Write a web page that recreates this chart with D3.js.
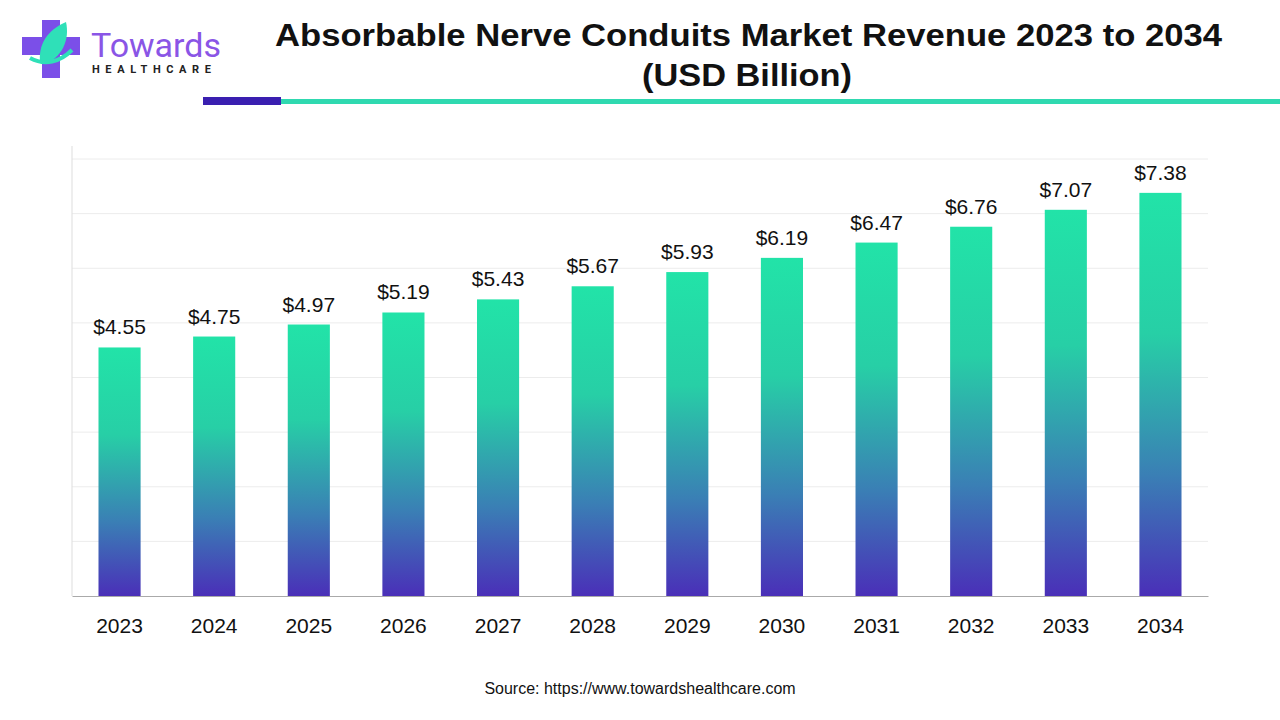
<!DOCTYPE html>
<html><head><meta charset="utf-8">
<script src="https://cdn.jsdelivr.net/npm/d3@7"></script>
<style>body{margin:0;background:#fff}svg{display:block}</style>
</head><body><svg id="c" width="1280" height="720"></svg>
<script>
const years=["2023","2024","2025","2026","2027","2028","2029","2030","2031","2032","2033","2034"];
const values=[4.55,4.75,4.97,5.19,5.43,5.67,5.93,6.19,6.47,6.76,7.07,7.38];
const gridTicks=[1,2,3,4,5,6,7,8];
const svg=d3.select("#c");
const F="'Liberation Sans', Arial, sans-serif";
const FL="Roboto, sans-serif";
const defs=svg.append("defs");
const g=defs.append("linearGradient").attr("id","bg").attr("x1",0).attr("y1",0).attr("x2",0).attr("y2",1);
g.append("stop").attr("offset","0%").attr("stop-color","#22e3a8");
g.append("stop").attr("offset","35%").attr("stop-color","#27cfa6");
g.append("stop").attr("offset","70%").attr("stop-color","#3a7fb5");
g.append("stop").attr("offset","100%").attr("stop-color","#4a2fb8");
// logo
const L=svg.append("g");
L.append("rect").attr("x",22).attr("y",37).attr("width",58).attr("height",18).attr("fill","#7b4fe8");
L.append("rect").attr("x",42).attr("y",20).attr("width",18).attr("height",58).attr("fill","#7b4fe8");
L.append("path").attr("d","M40,62 C38,40 52,28 66,22 C70,40 62,58 44,64 Z").attr("fill","#2fe0b8");
L.append("path").attr("d","M30,58 C45,66 60,62 72,50").attr("stroke","#2fe0b8").attr("stroke-width",4).attr("fill","none");
L.append("text").attr("x",91).attr("y",57).attr("font-family",FL).attr("font-size",34).attr("fill","#8a55e6").text("Towards");
L.append("text").attr("x",92).attr("y",73).attr("font-family",FL).attr("font-size",11).attr("font-weight",700).attr("letter-spacing",5.6).attr("fill","#222").text("HEALTHCARE");
// title
svg.append("text").attr("x",275).attr("y",46).attr("font-family",F).attr("font-weight",700).attr("font-size",32).attr("textLength",947).attr("lengthAdjust","spacingAndGlyphs").attr("fill","#111").text("Absorbable Nerve Conduits Market Revenue 2023 to 2034");
svg.append("text").attr("x",642).attr("y",86).attr("font-family",F).attr("font-weight",700).attr("font-size",32).attr("textLength",210).attr("lengthAdjust","spacingAndGlyphs").attr("fill","#111").text("(USD Billion)");
svg.append("rect").attr("x",203).attr("y",97).attr("width",78).attr("height",8).attr("fill","#3a1fb0");
svg.append("rect").attr("x",281).attr("y",99).attr("width",999).attr("height",5).attr("fill","#2fd9b0");
// chart
const x=d3.scaleBand().domain(years).range([72,1208]).paddingInner(0.555).paddingOuter(0.28);
const y=d3.scaleLinear().domain([0,8]).range([596,159]);
svg.append("g").selectAll("line").data(gridTicks).join("line")
 .attr("x1",72).attr("x2",1208).attr("y1",d=>y(d)).attr("y2",d=>y(d)).attr("stroke","#ececec");
svg.append("line").attr("x1",72).attr("x2",72).attr("y1",146).attr("y2",596).attr("stroke","#ddd");
svg.append("g").selectAll("rect").data(values).join("rect")
 .attr("x",(d,i)=>x(years[i])).attr("width",x.bandwidth()).attr("y",d=>y(d)).attr("height",d=>y(0)-y(d)).attr("fill","url(#bg)");
svg.append("g").selectAll("text").data(values).join("text")
 .attr("x",(d,i)=>x(years[i])+x.bandwidth()/2).attr("y",d=>y(d)-13).attr("text-anchor","middle")
 .attr("font-family",F).attr("font-size",21).attr("fill","#111").text(d=>"$"+d.toFixed(2));
const ax=svg.append("g").attr("transform","translate(0,596)").call(d3.axisBottom(x).tickSize(0).tickPadding(22));
ax.select(".domain").attr("stroke","#aaa");
ax.selectAll("text").attr("font-family",F).attr("font-size",21).attr("fill","#111");
svg.append("text").attr("x",640).attr("y",694).attr("text-anchor","middle").attr("font-family",F).attr("font-size",16).attr("fill","#111").text("Source: https://www.towardshealthcare.com");
</script></body></html>
